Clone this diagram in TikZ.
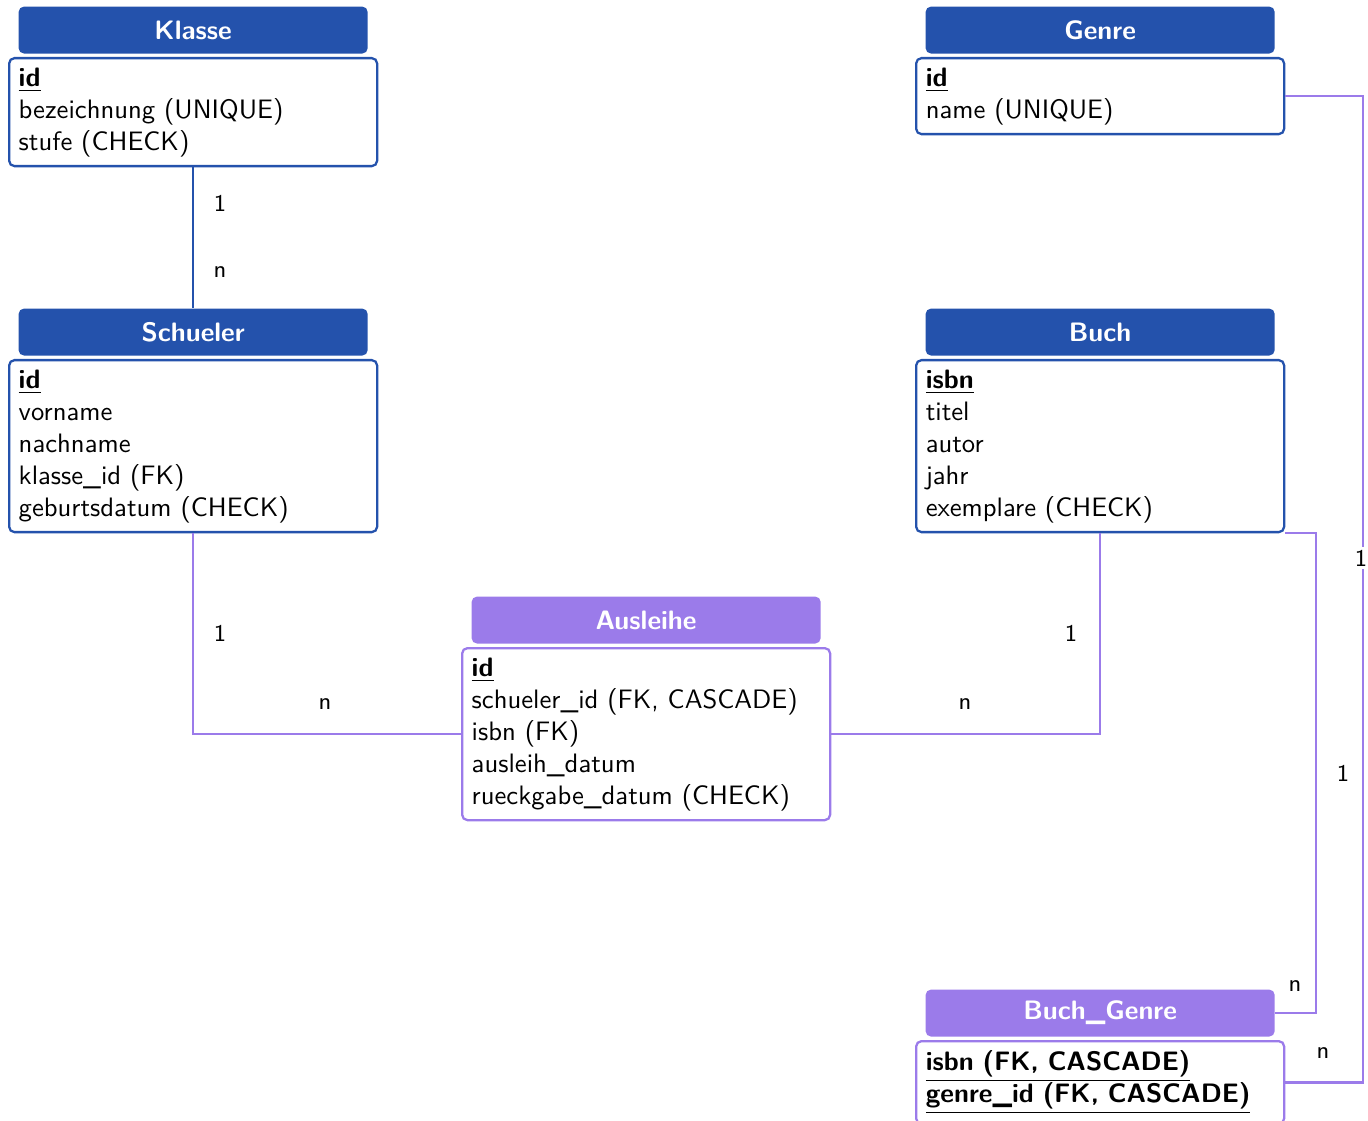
\documentclass[tikz,border=0pt]{standalone}
\usepackage{tikz}
\usetikzlibrary{positioning}
\definecolor{entityblue}{RGB}{36,82,172}
\definecolor{linkpurple}{RGB}{155,123,234}
\tikzset{
	tabhead/.style={fill=#1, rounded corners=2pt, minimum width=130.9pt, minimum height=17.6pt, inner sep=0pt, text=white, font=\sffamily\bfseries},
	tabbody/.style={draw=#1, line width=0.85pt, fill=white, rounded corners=2pt, anchor=north west, text width=130.8pt, align=left, inner xsep=3.6pt, inner ysep=0pt, font=\sffamily},
	rel/.style={draw=#1, line width=0.9pt},
	card/.style={font=\sffamily\small, inner sep=1pt},
}
\newcommand{\pkey}[1]{\underline{\textbf{#1}}}

\begin{document}
\begin{tikzpicture}[x=0.375pt, y=-0.375pt]
		%%%%% START %%%%%
		\useasboundingbox (0, 0) rectangle (1368, 1121);
		
		% tables, left column
		\node[tabbody=entityblue, minimum height=40.5pt] (klasse) at (8, 57) {\pkey{id}\\bezeichnung (UNIQUE)\\stufe (CHECK)};
		\node[tabhead=entityblue, above=1.1pt of klasse] (klasse-t) {Klasse};
		
		\node[tabbody=entityblue, minimum height=64.5pt] (schueler) at (8, 359) {\pkey{id}\\vorname\\nachname\\klasse\_id (FK)\\geburtsdatum (CHECK)};
		\node[tabhead=entityblue, above=1.1pt of schueler] (schueler-t) {Schueler};
		
		% tables, right column
		\node[tabbody=entityblue, minimum height=28.5pt] (genre) at (915, 57) {\pkey{id}\\name (UNIQUE)};
		\node[tabhead=entityblue, above=1.1pt of genre] (genre-t) {Genre};
		
		\node[tabbody=entityblue, minimum height=64.5pt] (buch) at (915, 359) {\pkey{isbn}\\titel\\autor\\jahr\\exemplare (CHECK)};
		\node[tabhead=entityblue, above=1.1pt of buch] (buch-t) {Buch};
		
		% link tables
		\node[tabbody=linkpurple, minimum height=64.5pt] (ausleihe) at (461, 647) {\pkey{id}\\schueler\_id (FK, CASCADE)\\isbn (FK)\\ausleih\_datum\\rueckgabe\_datum (CHECK)};
		\node[tabhead=linkpurple, above=1.1pt of ausleihe] (ausleihe-t) {Ausleihe};
		
		\node[tabbody=linkpurple, minimum height=31pt] (buchgenre) at (915, 1040) {\pkey{isbn (FK, CASCADE)}\\\pkey{genre\_id (FK, CASCADE)}};
		\node[tabhead=linkpurple, above=1.1pt of buchgenre] (buchgenre-t) {Buch\_Genre};
		
		% relations
		\draw[rel=entityblue] (klasse.south) -- (schueler-t.north);
		\node[card] (c1) at (220, 203) {1};
		\node[card] (c2) at (220, 272) {n};
		
		\draw[rel=linkpurple] (schueler.south) |- (ausleihe.west);
		\node[card] (c3) at (220, 633) {1};
		\node[card] (c4) at (325, 704) {n};
		
		\draw[rel=linkpurple] (buch.south) |- (ausleihe.east);
		\node[card] (c5) at (1071, 633) {1};
		\node[card] (c6) at (965, 704) {n};
		
		\draw[rel=linkpurple] (buch.south east) -- ++(31, 0) |- (buchgenre-t.east);
		\node[card] (c7) at (1343, 773) {1};
		\node[card] (c8) at (1295, 986) {n};
		
		\draw[rel=linkpurple] (genre.east) -- ++(78, 0) |- (buchgenre.east);
		\node[card, fill=white] (c9) at (1361, 558) {1};
		\node[card] (c10) at (1323, 1053) {n};
		%%%%% END %%%%%
\end{tikzpicture}
\end{document}
